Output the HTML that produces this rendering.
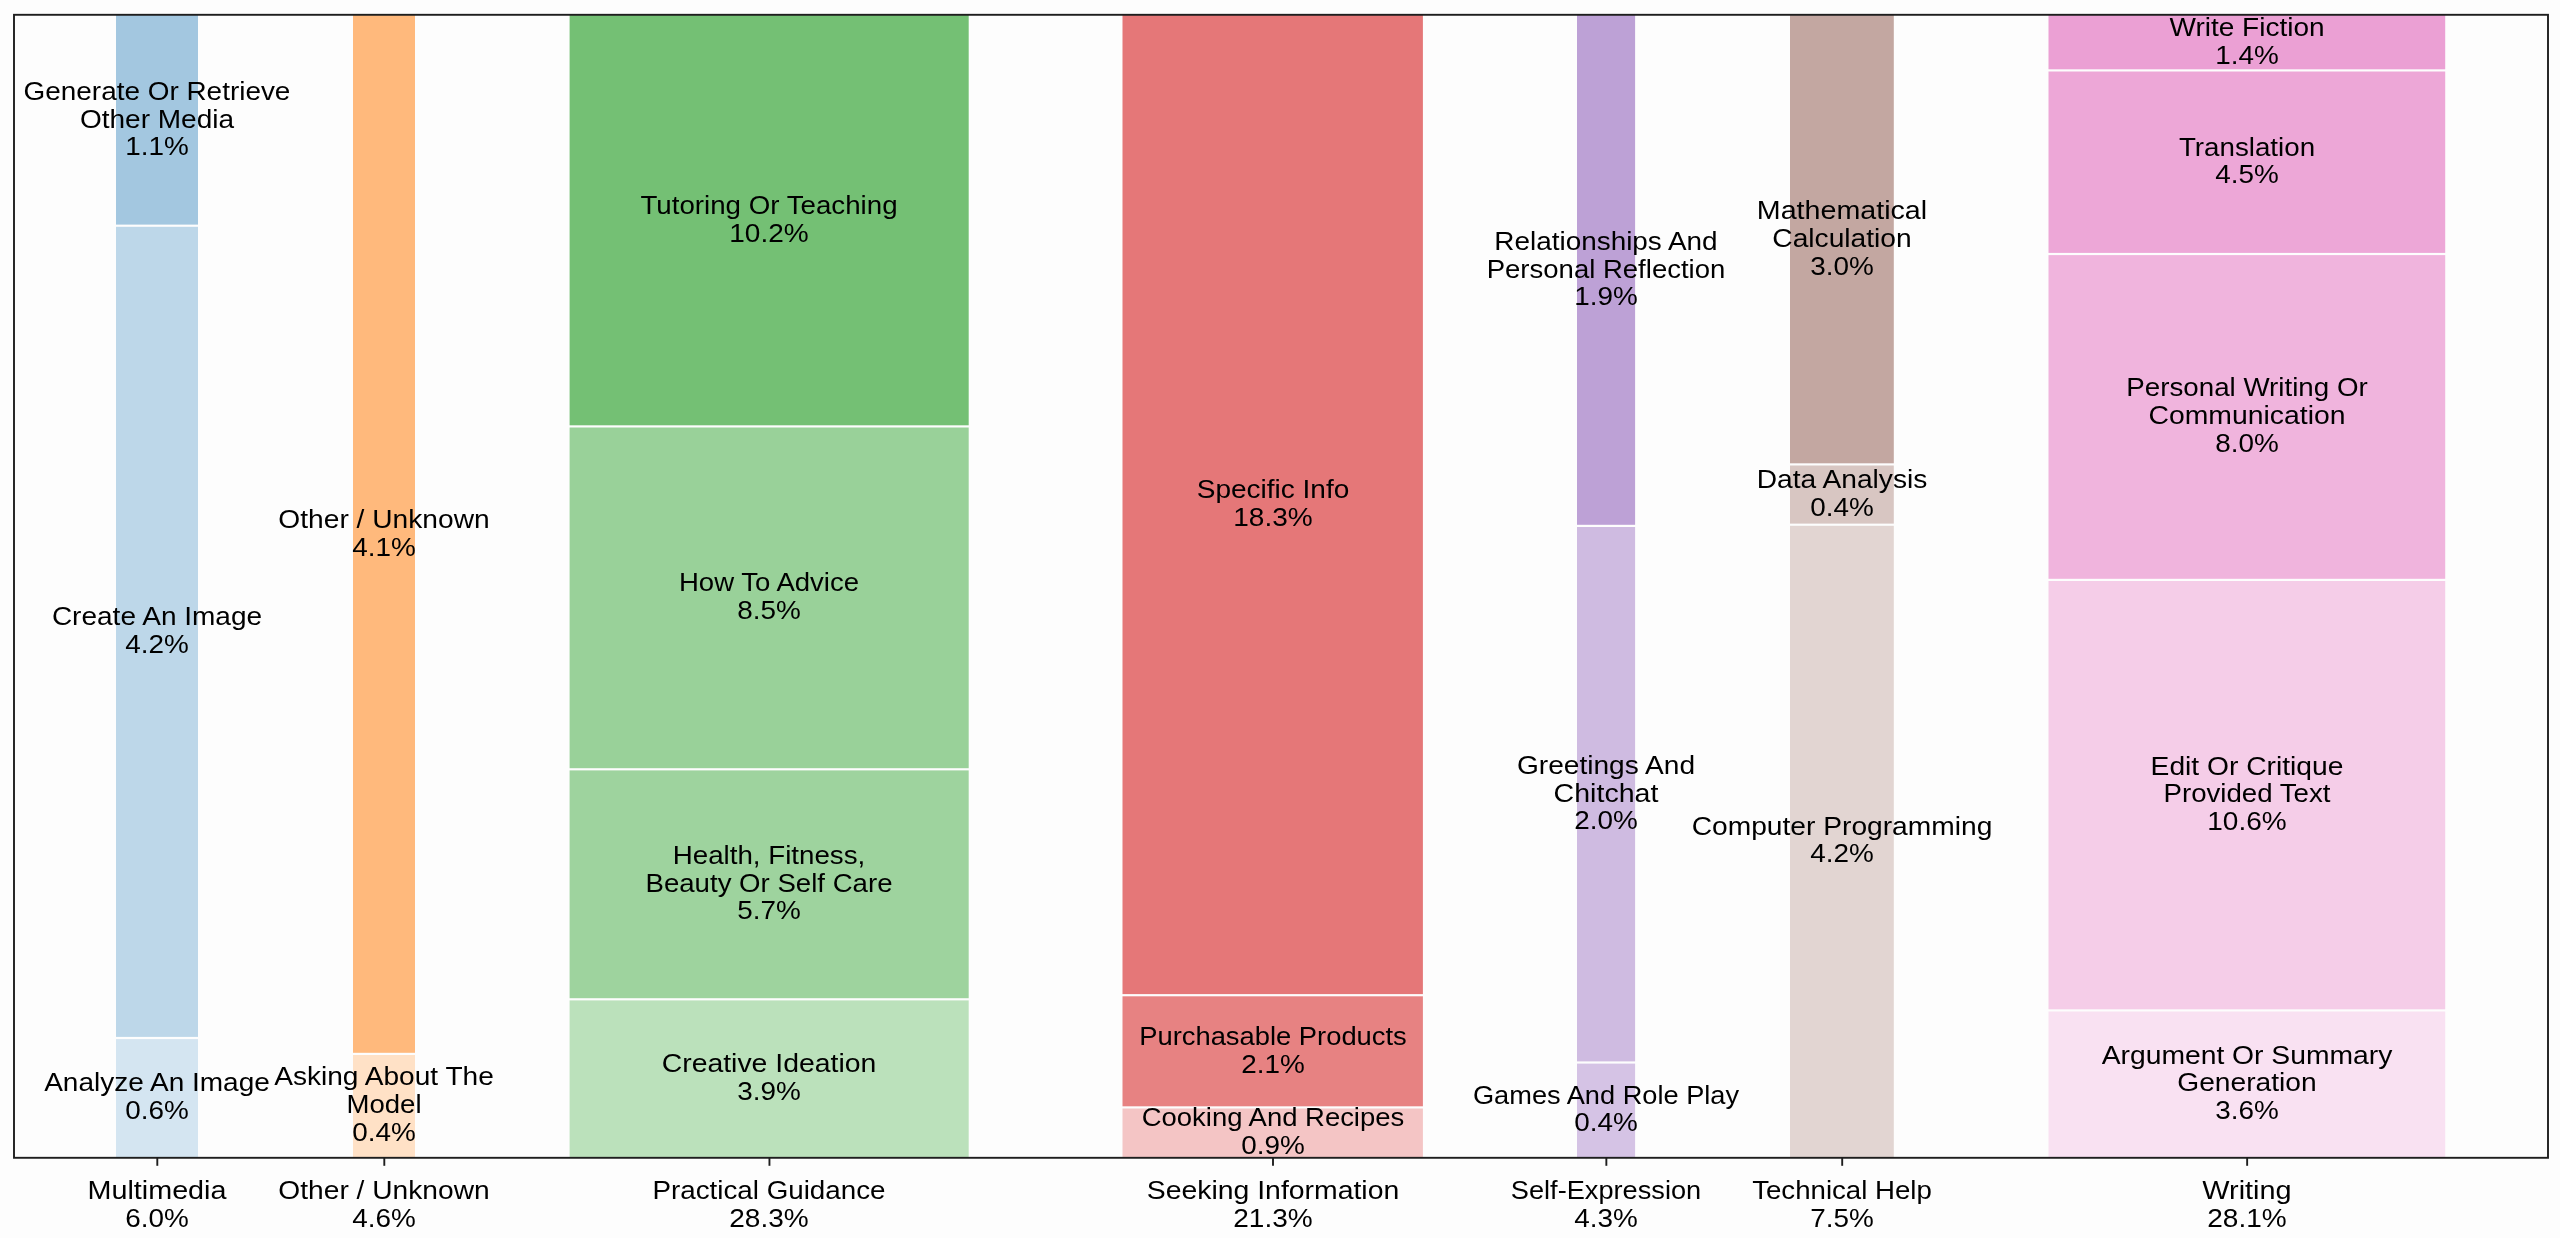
<!DOCTYPE html>
<html><head><meta charset="utf-8"><title>Conversation topics</title>
<style>
html,body{margin:0;padding:0;background:#fdfdfd;}
body{width:2560px;height:1238px;position:relative;overflow:hidden;font-family:"Liberation Sans",sans-serif;}
.t{position:absolute;white-space:nowrap;font-size:26.5px;line-height:30px;height:30px;color:#000;transform-origin:50% 50%;will-change:transform;}
</style></head><body>
<svg width="2560" height="1238" viewBox="0 0 2560 1238" style="position:absolute;left:0;top:0">
<rect x="116.00" y="14.80" width="82.00" height="209.80" fill="#a3c7e0"/>
<rect x="116.00" y="226.80" width="82.00" height="810.10" fill="#bdd7e9"/>
<rect x="116.00" y="1039.10" width="82.00" height="118.70" fill="#d4e5f1"/>
<rect x="353.00" y="14.80" width="62.00" height="1038.00" fill="#ffb97c"/>
<rect x="353.00" y="1055.00" width="62.00" height="102.80" fill="#ffe1c6"/>
<rect x="569.60" y="14.80" width="399.10" height="410.50" fill="#74c074"/>
<rect x="569.60" y="427.50" width="399.10" height="340.70" fill="#99d199"/>
<rect x="569.60" y="770.40" width="399.10" height="227.80" fill="#9ed39e"/>
<rect x="569.60" y="1000.40" width="399.10" height="157.40" fill="#bbe1bb"/>
<rect x="1122.50" y="14.80" width="300.40" height="979.30" fill="#e57778"/>
<rect x="1122.50" y="996.30" width="300.40" height="110.00" fill="#e78282"/>
<rect x="1122.50" y="1108.50" width="300.40" height="49.30" fill="#f4c5c5"/>
<rect x="1577.00" y="14.80" width="58.10" height="510.00" fill="#bda1d6"/>
<rect x="1577.00" y="527.00" width="58.10" height="534.40" fill="#cfbbe1"/>
<rect x="1577.00" y="1063.60" width="58.10" height="94.20" fill="#d5c3e5"/>
<rect x="1790.00" y="14.80" width="103.80" height="448.50" fill="#c3a7a1"/>
<rect x="1790.00" y="465.50" width="103.80" height="58.10" fill="#d8c6c2"/>
<rect x="1790.00" y="525.80" width="103.80" height="632.00" fill="#e2d5d2"/>
<rect x="2048.50" y="14.80" width="396.70" height="54.50" fill="#eba0d4"/>
<rect x="2048.50" y="71.50" width="396.70" height="181.40" fill="#eda7d7"/>
<rect x="2048.50" y="255.10" width="396.70" height="323.70" fill="#f0b4dd"/>
<rect x="2048.50" y="581.00" width="396.70" height="428.30" fill="#f5cde8"/>
<rect x="2048.50" y="1011.50" width="396.70" height="146.30" fill="#f9e1f2"/>
<g stroke="#1e1e1e" stroke-width="1.9" fill="none">
<rect x="14.00" y="14.80" width="2534.00" height="1143.00" stroke-linejoin="miter"/>
<line x1="157.30" y1="1157.80" x2="157.30" y2="1165.80"/>
<line x1="384.30" y1="1157.80" x2="384.30" y2="1165.80"/>
<line x1="769.45" y1="1157.80" x2="769.45" y2="1165.80"/>
<line x1="1273.00" y1="1157.80" x2="1273.00" y2="1165.80"/>
<line x1="1606.35" y1="1157.80" x2="1606.35" y2="1165.80"/>
<line x1="1842.20" y1="1157.80" x2="1842.20" y2="1165.80"/>
<line x1="2247.15" y1="1157.80" x2="2247.15" y2="1165.80"/>
</g>
</svg>
<div class="t" style="left:157.30px;top:75.75px;transform:translateX(-50%) scaleX(1.0532)">Generate Or Retrieve</div>
<div class="t" style="left:157.30px;top:103.55px;transform:translateX(-50%) scaleX(1.0562)">Other Media</div>
<div class="t" style="left:157.30px;top:131.35px;transform:translateX(-50%) scaleX(1.0514)">1.1%</div>
<div class="t" style="left:157.30px;top:601.25px;transform:translateX(-50%) scaleX(1.0570)">Create An Image</div>
<div class="t" style="left:157.30px;top:629.05px;transform:translateX(-50%) scaleX(1.0514)">4.2%</div>
<div class="t" style="left:157.30px;top:1067.30px;transform:translateX(-50%) scaleX(1.0564)">Analyze An Image</div>
<div class="t" style="left:157.30px;top:1095.10px;transform:translateX(-50%) scaleX(1.0514)">0.6%</div>
<div class="t" style="left:157.30px;top:1175.00px;transform:translateX(-50%) scaleX(1.0846)">Multimedia</div>
<div class="t" style="left:157.30px;top:1202.80px;transform:translateX(-50%) scaleX(1.0514)">6.0%</div>
<div class="t" style="left:384.30px;top:503.75px;transform:translateX(-50%) scaleX(1.0629)">Other / Unknown</div>
<div class="t" style="left:384.30px;top:531.55px;transform:translateX(-50%) scaleX(1.0514)">4.1%</div>
<div class="t" style="left:384.30px;top:1061.35px;transform:translateX(-50%) scaleX(1.0594)">Asking About The</div>
<div class="t" style="left:384.30px;top:1089.15px;transform:translateX(-50%) scaleX(1.0398)">Model</div>
<div class="t" style="left:384.30px;top:1116.95px;transform:translateX(-50%) scaleX(1.0514)">0.4%</div>
<div class="t" style="left:384.30px;top:1175.00px;transform:translateX(-50%) scaleX(1.0629)">Other / Unknown</div>
<div class="t" style="left:384.30px;top:1202.80px;transform:translateX(-50%) scaleX(1.0514)">4.6%</div>
<div class="t" style="left:769.45px;top:190.00px;transform:translateX(-50%) scaleX(1.0454)">Tutoring Or Teaching</div>
<div class="t" style="left:769.45px;top:217.80px;transform:translateX(-50%) scaleX(1.0569)">10.2%</div>
<div class="t" style="left:769.45px;top:567.25px;transform:translateX(-50%) scaleX(1.0394)">How To Advice</div>
<div class="t" style="left:769.45px;top:595.05px;transform:translateX(-50%) scaleX(1.0514)">8.5%</div>
<div class="t" style="left:769.45px;top:839.80px;transform:translateX(-50%) scaleX(1.0457)">Health, Fitness,</div>
<div class="t" style="left:769.45px;top:867.60px;transform:translateX(-50%) scaleX(1.0415)">Beauty Or Self Care</div>
<div class="t" style="left:769.45px;top:895.40px;transform:translateX(-50%) scaleX(1.0514)">5.7%</div>
<div class="t" style="left:769.45px;top:1047.95px;transform:translateX(-50%) scaleX(1.0711)">Creative Ideation</div>
<div class="t" style="left:769.45px;top:1075.75px;transform:translateX(-50%) scaleX(1.0514)">3.9%</div>
<div class="t" style="left:769.45px;top:1175.00px;transform:translateX(-50%) scaleX(1.0476)">Practical Guidance</div>
<div class="t" style="left:769.45px;top:1202.80px;transform:translateX(-50%) scaleX(1.0569)">28.3%</div>
<div class="t" style="left:1273.00px;top:474.40px;transform:translateX(-50%) scaleX(1.0568)">Specific Info</div>
<div class="t" style="left:1273.00px;top:502.20px;transform:translateX(-50%) scaleX(1.0569)">18.3%</div>
<div class="t" style="left:1273.00px;top:1020.70px;transform:translateX(-50%) scaleX(1.0320)">Purchasable Products</div>
<div class="t" style="left:1273.00px;top:1048.50px;transform:translateX(-50%) scaleX(1.0514)">2.1%</div>
<div class="t" style="left:1273.00px;top:1102.00px;transform:translateX(-50%) scaleX(1.0359)">Cooking And Recipes</div>
<div class="t" style="left:1273.00px;top:1129.80px;transform:translateX(-50%) scaleX(1.0514)">0.9%</div>
<div class="t" style="left:1273.00px;top:1175.00px;transform:translateX(-50%) scaleX(1.0710)">Seeking Information</div>
<div class="t" style="left:1273.00px;top:1202.80px;transform:translateX(-50%) scaleX(1.0569)">21.3%</div>
<div class="t" style="left:1606.35px;top:225.85px;transform:translateX(-50%) scaleX(1.0523)">Relationships And</div>
<div class="t" style="left:1606.35px;top:253.65px;transform:translateX(-50%) scaleX(1.0384)">Personal Reflection</div>
<div class="t" style="left:1606.35px;top:281.45px;transform:translateX(-50%) scaleX(1.0514)">1.9%</div>
<div class="t" style="left:1606.35px;top:749.70px;transform:translateX(-50%) scaleX(1.0605)">Greetings And</div>
<div class="t" style="left:1606.35px;top:777.50px;transform:translateX(-50%) scaleX(1.0776)">Chitchat</div>
<div class="t" style="left:1606.35px;top:805.30px;transform:translateX(-50%) scaleX(1.0514)">2.0%</div>
<div class="t" style="left:1606.35px;top:1079.55px;transform:translateX(-50%) scaleX(1.0265)">Games And Role Play</div>
<div class="t" style="left:1606.35px;top:1107.35px;transform:translateX(-50%) scaleX(1.0514)">0.4%</div>
<div class="t" style="left:1606.35px;top:1175.00px;transform:translateX(-50%) scaleX(1.0258)">Self-Expression</div>
<div class="t" style="left:1606.35px;top:1202.80px;transform:translateX(-50%) scaleX(1.0514)">4.3%</div>
<div class="t" style="left:1842.20px;top:195.10px;transform:translateX(-50%) scaleX(1.0809)">Mathematical</div>
<div class="t" style="left:1842.20px;top:222.90px;transform:translateX(-50%) scaleX(1.0637)">Calculation</div>
<div class="t" style="left:1842.20px;top:250.70px;transform:translateX(-50%) scaleX(1.0514)">3.0%</div>
<div class="t" style="left:1842.20px;top:463.95px;transform:translateX(-50%) scaleX(1.0628)">Data Analysis</div>
<div class="t" style="left:1842.20px;top:491.75px;transform:translateX(-50%) scaleX(1.0514)">0.4%</div>
<div class="t" style="left:1842.20px;top:810.65px;transform:translateX(-50%) scaleX(1.0634)">Computer Programming</div>
<div class="t" style="left:1842.20px;top:838.45px;transform:translateX(-50%) scaleX(1.0514)">4.2%</div>
<div class="t" style="left:1842.20px;top:1175.00px;transform:translateX(-50%) scaleX(1.0429)">Technical Help</div>
<div class="t" style="left:1842.20px;top:1202.80px;transform:translateX(-50%) scaleX(1.0514)">7.5%</div>
<div class="t" style="left:2247.15px;top:12.00px;transform:translateX(-50%) scaleX(1.0567)">Write Fiction</div>
<div class="t" style="left:2247.15px;top:39.80px;transform:translateX(-50%) scaleX(1.0514)">1.4%</div>
<div class="t" style="left:2247.15px;top:131.60px;transform:translateX(-50%) scaleX(1.0470)">Translation</div>
<div class="t" style="left:2247.15px;top:159.40px;transform:translateX(-50%) scaleX(1.0514)">4.5%</div>
<div class="t" style="left:2247.15px;top:372.45px;transform:translateX(-50%) scaleX(1.0463)">Personal Writing Or</div>
<div class="t" style="left:2247.15px;top:400.25px;transform:translateX(-50%) scaleX(1.0703)">Communication</div>
<div class="t" style="left:2247.15px;top:428.05px;transform:translateX(-50%) scaleX(1.0514)">8.0%</div>
<div class="t" style="left:2247.15px;top:750.65px;transform:translateX(-50%) scaleX(1.0643)">Edit Or Critique</div>
<div class="t" style="left:2247.15px;top:778.45px;transform:translateX(-50%) scaleX(1.0434)">Provided Text</div>
<div class="t" style="left:2247.15px;top:806.25px;transform:translateX(-50%) scaleX(1.0569)">10.6%</div>
<div class="t" style="left:2247.15px;top:1039.60px;transform:translateX(-50%) scaleX(1.0670)">Argument Or Summary</div>
<div class="t" style="left:2247.15px;top:1067.40px;transform:translateX(-50%) scaleX(1.0636)">Generation</div>
<div class="t" style="left:2247.15px;top:1095.20px;transform:translateX(-50%) scaleX(1.0514)">3.6%</div>
<div class="t" style="left:2247.15px;top:1175.00px;transform:translateX(-50%) scaleX(1.0890)">Writing</div>
<div class="t" style="left:2247.15px;top:1202.80px;transform:translateX(-50%) scaleX(1.0569)">28.1%</div>
</body></html>
